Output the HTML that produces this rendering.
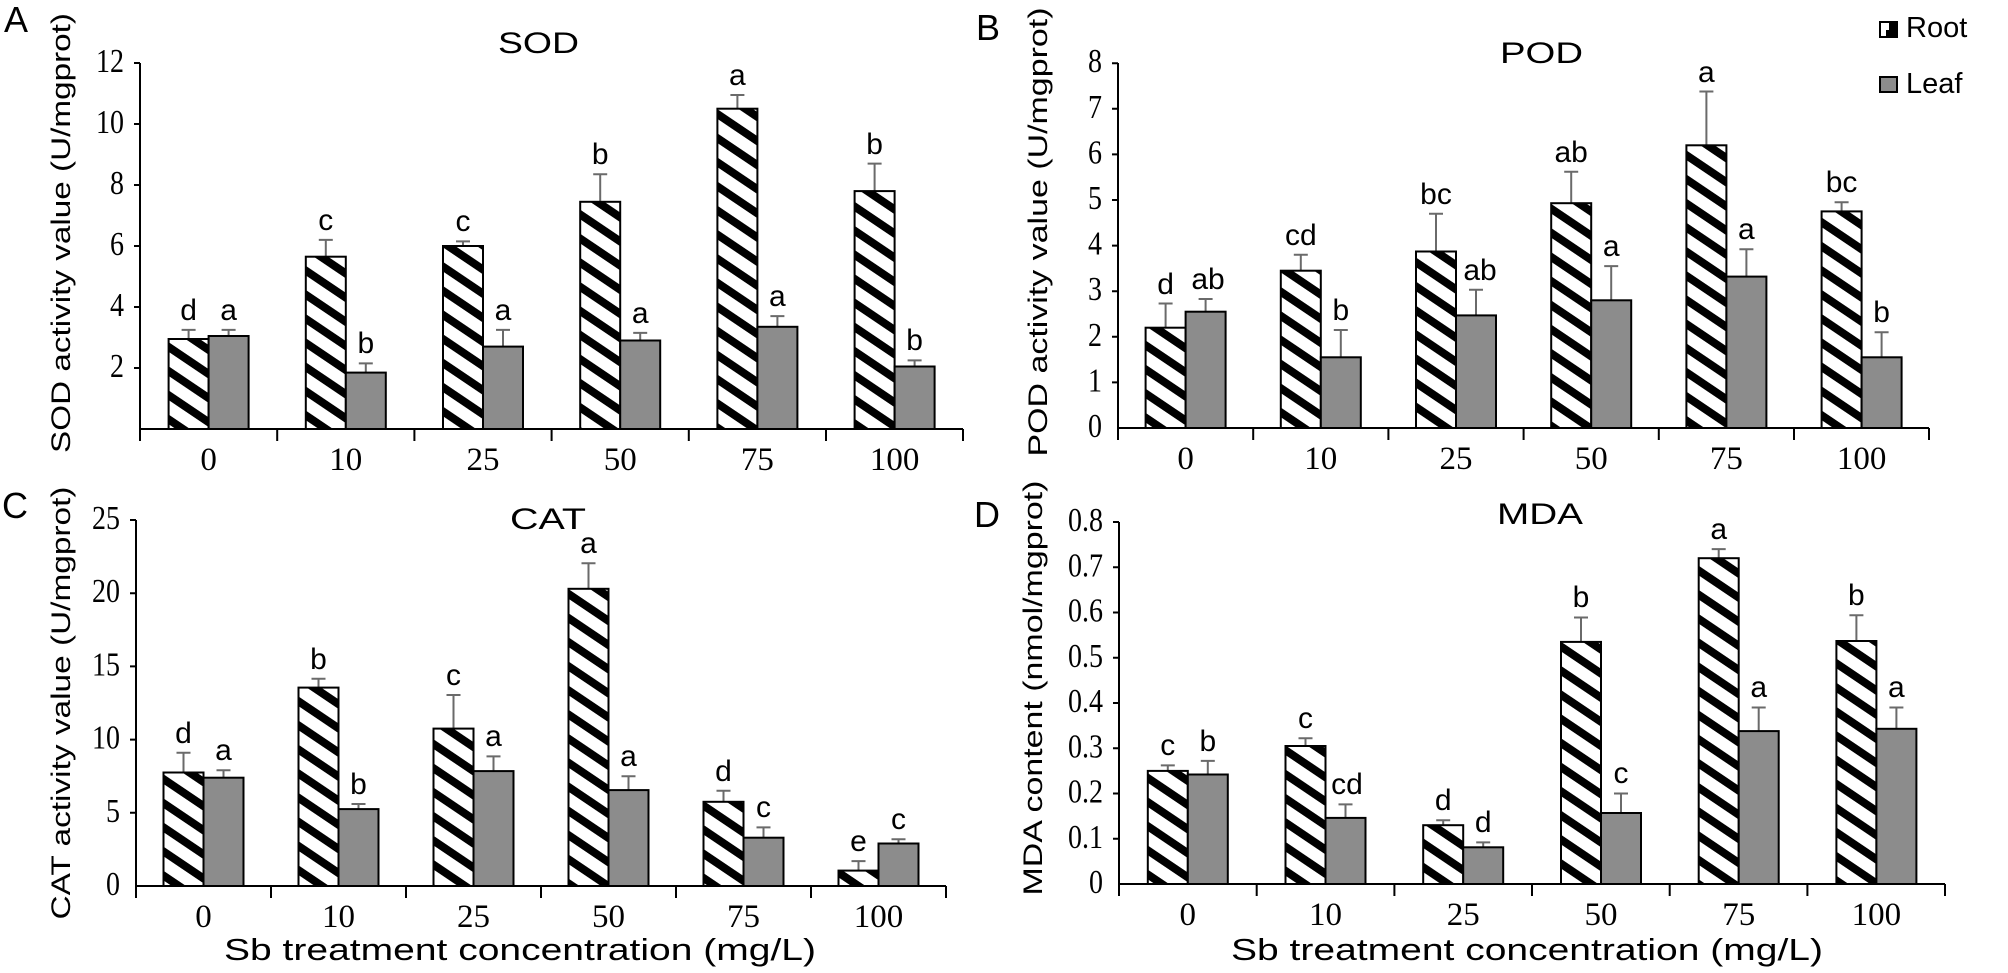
<!DOCTYPE html>
<html><head><meta charset="utf-8"><style>
html,body{margin:0;padding:0;background:#fff;}
svg{display:block;}
.s{font-family:"Liberation Sans",sans-serif;}
.r{font-family:"Liberation Serif",serif;}
.lt{font-family:"Liberation Sans",sans-serif;font-size:30px;text-anchor:middle;}
.yt{font-family:"Liberation Serif",serif;font-size:28px;text-anchor:end;}
.xt{font-family:"Liberation Serif",serif;font-size:33px;text-anchor:middle;}
.rt{fill:url(#h);stroke:#000;stroke-width:2;}
.lf{fill:#8c8c8c;stroke:#000;stroke-width:2;}
.e{stroke:#6a6a6a;stroke-width:2;fill:none;}
.ax{stroke:#000;stroke-width:2;fill:none;}
</style></head><body>
<svg width="2008" height="973" viewBox="0 0 2008 973" xmlns="http://www.w3.org/2000/svg">
<defs>
<pattern id="h" patternUnits="userSpaceOnUse" width="20" height="20" patternTransform="rotate(-56)">
<rect x="0" y="0" width="20" height="20" fill="#fff"/>
<rect x="0" y="0" width="8" height="20" fill="#000"/>
</pattern>
</defs>

<!-- Panel letters -->
<text class="s" x="4" y="32" font-size="36">A</text>
<text class="s" x="976" y="40" font-size="36">B</text>
<text class="s" x="2" y="518" font-size="36">C</text>
<text class="s" x="974" y="527" font-size="36">D</text>

<!-- Titles -->
<text class="s" x="498" y="53" font-size="30" textLength="81" lengthAdjust="spacingAndGlyphs">SOD</text>
<text class="s" x="1500" y="63" font-size="30" textLength="83" lengthAdjust="spacingAndGlyphs">POD</text>
<text class="s" x="510" y="529" font-size="30" textLength="76" lengthAdjust="spacingAndGlyphs">CAT</text>
<text class="s" x="1497" y="524" font-size="30" textLength="86" lengthAdjust="spacingAndGlyphs">MDA</text>

<!-- Y axis labels -->
<text class="s" font-size="27" text-anchor="middle" transform="translate(70,233) rotate(-90)" textLength="440" lengthAdjust="spacingAndGlyphs">SOD activity value (U/mgprot)</text>
<text class="s" font-size="27" text-anchor="middle" transform="translate(1047,232) rotate(-90)" textLength="449" lengthAdjust="spacingAndGlyphs">POD activity value (U/mgprot)</text>
<text class="s" font-size="27" text-anchor="middle" transform="translate(70,703) rotate(-90)" textLength="433" lengthAdjust="spacingAndGlyphs">CAT activity value (U/mgprot)</text>
<text class="s" font-size="27" text-anchor="middle" transform="translate(1042,688) rotate(-90)" textLength="415" lengthAdjust="spacingAndGlyphs">MDA content (nmol/mgprot)</text>

<!-- X axis labels -->
<text class="s" x="224" y="960" font-size="31" textLength="592" lengthAdjust="spacingAndGlyphs">Sb treatment concentration (mg/L)</text>
<text class="s" x="1231" y="960" font-size="31" textLength="592" lengthAdjust="spacingAndGlyphs">Sb treatment concentration (mg/L)</text>

<!-- Legend -->
<rect x="1880" y="22" width="17" height="15" fill="#fff" stroke="#000" stroke-width="2"/>
<polygon points="1889,22 1897,22 1897,37 1886,37 1886,30 1889,30" fill="#000"/>
<text class="s" x="1906" y="37" font-size="29">Root</text>
<rect x="1880" y="77" width="17" height="15" class="lf"/>
<text class="s" x="1906" y="93" font-size="29">Leaf</text>

<!-- Panel A -->
<g transform="translate(140,429)">
<path class="ax" d="M0,0V-366M-6,-61H0M-6,-122H0M-6,-183H0M-6,-244H0M-6,-305H0M-6,-366H0M0,0H823M0,0V12M137.2,0V12M274.4,0V12M411.6,0V12M548.8,0V12M686,0V12M823,0V12"/>
<text class="yt" transform="translate(-16,-52) scale(1,1.2)">2</text>
<text class="yt" transform="translate(-16,-113) scale(1,1.2)">4</text>
<text class="yt" transform="translate(-16,-174) scale(1,1.2)">6</text>
<text class="yt" transform="translate(-16,-235) scale(1,1.2)">8</text>
<text class="yt" transform="translate(-16,-296) scale(1,1.2)">10</text>
<text class="yt" transform="translate(-16,-357) scale(1,1.2)">12</text>
<text class="xt" x="68.6" y="41">0</text><text class="xt" x="205.8" y="41">10</text><text class="xt" x="343" y="41">25</text><text class="xt" x="480.2" y="41">50</text><text class="xt" x="617.4" y="41">75</text><text class="xt" x="754.6" y="41">100</text>
<path class="e" d="M48.6,-90V-99.1M41.6,-99.1H55.6M88.6,-93V-99.1M81.6,-99.1H95.6
M185.8,-172.3V-189.1M178.8,-189.1H192.8M225.8,-56.4V-65.6M218.8,-65.6H232.8
M323,-183V-187.6M316,-187.6H330M363,-82.4V-99.1M356,-99.1H370
M460.2,-227.2V-254.7M453.2,-254.7H467.2M500.2,-88.5V-96.1M493.2,-96.1H507.2
M597.4,-320.3V-334M590.4,-334H604.4M637.4,-102.2V-112.9M630.4,-112.9H644.4
M734.6,-237.9V-265.4M727.6,-265.4H741.6M774.6,-62.5V-68.6M767.6,-68.6H781.6"/>
<rect class="rt" x="28.6" y="-90" width="40" height="90"/><rect class="lf" x="68.6" y="-93" width="40" height="93"/>
<rect class="rt" x="165.8" y="-172.3" width="40" height="172.3"/><rect class="lf" x="205.8" y="-56.4" width="40" height="56.4"/>
<rect class="rt" x="303" y="-183" width="40" height="183"/><rect class="lf" x="343" y="-82.4" width="40" height="82.4"/>
<rect class="rt" x="440.2" y="-227.2" width="40" height="227.2"/><rect class="lf" x="480.2" y="-88.5" width="40" height="88.5"/>
<rect class="rt" x="577.4" y="-320.3" width="40" height="320.3"/><rect class="lf" x="617.4" y="-102.2" width="40" height="102.2"/>
<rect class="rt" x="714.6" y="-237.9" width="40" height="237.9"/><rect class="lf" x="754.6" y="-62.5" width="40" height="62.5"/>
<path class="ax" d="M0,0H823"/>
<text class="lt" x="48.6" y="-109">d</text><text class="lt" x="88.6" y="-109">a</text>
<text class="lt" x="185.8" y="-199">c</text><text class="lt" x="225.8" y="-76">b</text>
<text class="lt" x="323" y="-198">c</text><text class="lt" x="363" y="-109">a</text>
<text class="lt" x="460.2" y="-265">b</text><text class="lt" x="500.2" y="-106">a</text>
<text class="lt" x="597.4" y="-344">a</text><text class="lt" x="637.4" y="-123">a</text>
<text class="lt" x="734.6" y="-275">b</text><text class="lt" x="774.6" y="-79">b</text>
</g>

<!-- Panel B -->
<g transform="translate(1118,428)">
<path class="ax" d="M0,0V-365M-6,-45.6H0M-6,-91.2H0M-6,-136.8H0M-6,-182.4H0M-6,-228H0M-6,-273.6H0M-6,-319.2H0M-6,-364.8H0M0,0H811M0,0V12M135.2,0V12M270.4,0V12M405.6,0V12M540.8,0V12M676,0V12M811,0V12"/>
<text class="yt" transform="translate(-16,9) scale(1,1.2)">0</text>
<text class="yt" transform="translate(-16,-36.6) scale(1,1.2)">1</text>
<text class="yt" transform="translate(-16,-82.2) scale(1,1.2)">2</text>
<text class="yt" transform="translate(-16,-127.8) scale(1,1.2)">3</text>
<text class="yt" transform="translate(-16,-173.4) scale(1,1.2)">4</text>
<text class="yt" transform="translate(-16,-219) scale(1,1.2)">5</text>
<text class="yt" transform="translate(-16,-264.6) scale(1,1.2)">6</text>
<text class="yt" transform="translate(-16,-310.2) scale(1,1.2)">7</text>
<text class="yt" transform="translate(-16,-355.8) scale(1,1.2)">8</text>
<text class="xt" x="67.6" y="41">0</text><text class="xt" x="202.8" y="41">10</text><text class="xt" x="338" y="41">25</text><text class="xt" x="473.2" y="41">50</text><text class="xt" x="608.4" y="41">75</text><text class="xt" x="743.6" y="41">100</text>
<path class="e" d="M47.6,-100.3V-124.5M40.6,-124.5H54.6M87.6,-116.3V-129M80.6,-129H94.6
M182.8,-157.3V-173.3M175.8,-173.3H189.8M222.8,-70.7V-98M215.8,-98H229.8
M318,-176.5V-214.3M311,-214.3H325M358,-112.6V-138.2M351,-138.2H365
M453.2,-224.8V-256.3M446.2,-256.3H460.2M493.2,-127.7V-161.9M486.2,-161.9H500.2
M588.4,-282.7V-336.5M581.4,-336.5H595.4M628.4,-151.4V-178.8M621.4,-178.8H635.4
M723.6,-216.6V-225.7M716.6,-225.7H730.6M763.6,-70.7V-95.8M756.6,-95.8H770.6"/>
<rect class="rt" x="27.6" y="-100.3" width="40" height="100.3"/><rect class="lf" x="67.6" y="-116.3" width="40" height="116.3"/>
<rect class="rt" x="162.8" y="-157.3" width="40" height="157.3"/><rect class="lf" x="202.8" y="-70.7" width="40" height="70.7"/>
<rect class="rt" x="298" y="-176.5" width="40" height="176.5"/><rect class="lf" x="338" y="-112.6" width="40" height="112.6"/>
<rect class="rt" x="433.2" y="-224.8" width="40" height="224.8"/><rect class="lf" x="473.2" y="-127.7" width="40" height="127.7"/>
<rect class="rt" x="568.4" y="-282.7" width="40" height="282.7"/><rect class="lf" x="608.4" y="-151.4" width="40" height="151.4"/>
<rect class="rt" x="703.6" y="-216.6" width="40" height="216.6"/><rect class="lf" x="743.6" y="-70.7" width="40" height="70.7"/>
<path class="ax" d="M0,0H811"/>
<text class="lt" x="47.6" y="-134">d</text><text class="lt" x="90" y="-139">ab</text>
<text class="lt" x="182.8" y="-183">cd</text><text class="lt" x="222.8" y="-108">b</text>
<text class="lt" x="318" y="-224">bc</text><text class="lt" x="362" y="-148">ab</text>
<text class="lt" x="453.2" y="-266">ab</text><text class="lt" x="493.2" y="-172">a</text>
<text class="lt" x="588.4" y="-346">a</text><text class="lt" x="628.4" y="-189">a</text>
<text class="lt" x="723.6" y="-236">bc</text><text class="lt" x="763.6" y="-106">b</text>
</g>

<!-- Panel C -->
<g transform="translate(136,886)">
<path class="ax" d="M0,0V-366M-6,-73.2H0M-6,-146.4H0M-6,-219.6H0M-6,-292.8H0M-6,-366H0M0,0H810M0,0V12M135,0V12M270,0V12M405,0V12M540,0V12M675,0V12M810,0V12"/>
<text class="yt" transform="translate(-16,9) scale(1,1.2)">0</text>
<text class="yt" transform="translate(-16,-64.2) scale(1,1.2)">5</text>
<text class="yt" transform="translate(-16,-137.4) scale(1,1.2)">10</text>
<text class="yt" transform="translate(-16,-210.6) scale(1,1.2)">15</text>
<text class="yt" transform="translate(-16,-283.8) scale(1,1.2)">20</text>
<text class="yt" transform="translate(-16,-357) scale(1,1.2)">25</text>
<text class="xt" x="67.5" y="41">0</text><text class="xt" x="202.5" y="41">10</text><text class="xt" x="337.5" y="41">25</text><text class="xt" x="472.5" y="41">50</text><text class="xt" x="607.5" y="41">75</text><text class="xt" x="742.5" y="41">100</text>
<path class="e" d="M47.5,-113.5V-133.2M40.5,-133.2H54.5M87.5,-108.3V-115.7M80.5,-115.7H94.5
M182.5,-198.4V-207.2M175.5,-207.2H189.5M222.5,-76.9V-82M215.5,-82H229.5
M317.5,-157.4V-191M310.5,-191H324.5M357.5,-114.9V-129.6M350.5,-129.6H364.5
M452.5,-297.2V-322.8M445.5,-322.8H459.5M492.5,-95.9V-109.8M485.5,-109.8H499.5
M587.5,-84.2V-95.2M580.5,-95.2H594.5M627.5,-48.3V-58.6M620.5,-58.6H634.5
M722.5,-15.4V-24.9M715.5,-24.9H729.5M762.5,-42.5V-46.8M755.5,-46.8H769.5"/>
<rect class="rt" x="27.5" y="-113.5" width="40" height="113.5"/><rect class="lf" x="67.5" y="-108.3" width="40" height="108.3"/>
<rect class="rt" x="162.5" y="-198.4" width="40" height="198.4"/><rect class="lf" x="202.5" y="-76.9" width="40" height="76.9"/>
<rect class="rt" x="297.5" y="-157.4" width="40" height="157.4"/><rect class="lf" x="337.5" y="-114.9" width="40" height="114.9"/>
<rect class="rt" x="432.5" y="-297.2" width="40" height="297.2"/><rect class="lf" x="472.5" y="-95.9" width="40" height="95.9"/>
<rect class="rt" x="567.5" y="-84.2" width="40" height="84.2"/><rect class="lf" x="607.5" y="-48.3" width="40" height="48.3"/>
<rect class="rt" x="702.5" y="-15.4" width="40" height="15.4"/><rect class="lf" x="742.5" y="-42.5" width="40" height="42.5"/>
<path class="ax" d="M0,0H810"/>
<text class="lt" x="47.5" y="-143">d</text><text class="lt" x="87.5" y="-126">a</text>
<text class="lt" x="182.5" y="-217">b</text><text class="lt" x="222.5" y="-92">b</text>
<text class="lt" x="317.5" y="-201">c</text><text class="lt" x="357.5" y="-140">a</text>
<text class="lt" x="452.5" y="-333">a</text><text class="lt" x="492.5" y="-120">a</text>
<text class="lt" x="587.5" y="-105">d</text><text class="lt" x="627.5" y="-69">c</text>
<text class="lt" x="722.5" y="-35">e</text><text class="lt" x="762.5" y="-57">c</text>
</g>

<!-- Panel D -->
<g transform="translate(1119,884)">
<path class="ax" d="M0,0V-362M-6,-45.25H0M-6,-90.5H0M-6,-135.75H0M-6,-181H0M-6,-226.25H0M-6,-271.5H0M-6,-316.75H0M-6,-362H0M0,0H826M0,0V12M137.7,0V12M275.4,0V12M413,0V12M550.7,0V12M688.4,0V12M826,0V12"/>
<text class="yt" transform="translate(-16,9) scale(1,1.2)">0</text>
<text class="yt" transform="translate(-16,-36.25) scale(1,1.2)">0.1</text>
<text class="yt" transform="translate(-16,-81.5) scale(1,1.2)">0.2</text>
<text class="yt" transform="translate(-16,-126.75) scale(1,1.2)">0.3</text>
<text class="yt" transform="translate(-16,-172) scale(1,1.2)">0.4</text>
<text class="yt" transform="translate(-16,-217.25) scale(1,1.2)">0.5</text>
<text class="yt" transform="translate(-16,-262.5) scale(1,1.2)">0.6</text>
<text class="yt" transform="translate(-16,-307.75) scale(1,1.2)">0.7</text>
<text class="yt" transform="translate(-16,-353) scale(1,1.2)">0.8</text>
<text class="xt" x="68.8" y="41">0</text><text class="xt" x="206.5" y="41">10</text><text class="xt" x="344.2" y="41">25</text><text class="xt" x="482" y="41">50</text><text class="xt" x="619.7" y="41">75</text><text class="xt" x="757.4" y="41">100</text>
<path class="e" d="M48.8,-113.1V-118.6M41.8,-118.6H55.8M88.8,-109.5V-123.1M81.8,-123.1H95.8
M186.5,-138V-145.7M179.5,-145.7H193.5M226.5,-66.1V-79.6M219.5,-79.6H233.5
M324.2,-58.8V-63.8M317.2,-63.8H331.2M364.2,-36.7V-41.6M357.2,-41.6H371.2
M462,-242.1V-266.5M455,-266.5H469M502,-71V-90.5M495,-90.5H509
M599.7,-325.8V-334.9M592.7,-334.9H606.7M639.7,-152.9V-176.5M632.7,-176.5H646.7
M737.4,-243V-268.8M730.4,-268.8H744.4M777.4,-155.2V-176.5M770.4,-176.5H784.4"/>
<rect class="rt" x="28.8" y="-113.1" width="40" height="113.1"/><rect class="lf" x="68.8" y="-109.5" width="40" height="109.5"/>
<rect class="rt" x="166.5" y="-138" width="40" height="138"/><rect class="lf" x="206.5" y="-66.1" width="40" height="66.1"/>
<rect class="rt" x="304.2" y="-58.8" width="40" height="58.8"/><rect class="lf" x="344.2" y="-36.7" width="40" height="36.7"/>
<rect class="rt" x="442" y="-242.1" width="40" height="242.1"/><rect class="lf" x="482" y="-71" width="40" height="71"/>
<rect class="rt" x="579.7" y="-325.8" width="40" height="325.8"/><rect class="lf" x="619.7" y="-152.9" width="40" height="152.9"/>
<rect class="rt" x="717.4" y="-243" width="40" height="243"/><rect class="lf" x="757.4" y="-155.2" width="40" height="155.2"/>
<path class="ax" d="M0,0H826"/>
<text class="lt" x="48.8" y="-129">c</text><text class="lt" x="88.8" y="-133">b</text>
<text class="lt" x="186.5" y="-156">c</text><text class="lt" x="228" y="-90">cd</text>
<text class="lt" x="324.2" y="-74">d</text><text class="lt" x="364.2" y="-52">d</text>
<text class="lt" x="462" y="-277">b</text><text class="lt" x="502" y="-101">c</text>
<text class="lt" x="599.7" y="-345">a</text><text class="lt" x="639.7" y="-187">a</text>
<text class="lt" x="737.4" y="-279">b</text><text class="lt" x="777.4" y="-187">a</text>
</g>
</svg>
</body></html>
